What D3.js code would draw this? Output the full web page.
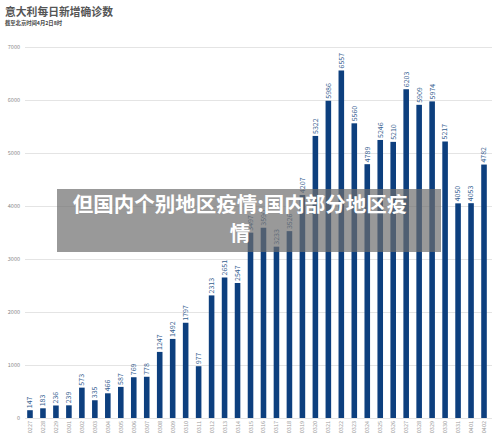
<!DOCTYPE html>
<html>
<head>
<meta charset="utf-8">
<script src="https://cdn.jsdelivr.net/npm/d3@7/dist/d3.min.js"></script>
<style>
  html, body { margin: 0; padding: 0; background: #fff; }
  svg { display: block; }
</style>
</head>
<body>
<svg id="chart" width="500" height="442"></svg>
<script>
const titleText = "意大利每日新增确诊数";
const subtitleText = "截至北京时间4月2日8时";
const overlayLines = ["但国内个别地区疫情:国内部分地区疫", "情"];

const dates = ["0227","0228","0229","0301","0302","0303","0304","0305","0306","0307",
  "0308","0309","0310","0311","0312","0313","0314","0315","0316","0317",
  "0318","0319","0320","0321","0322","0323","0324","0325","0326","0327",
  "0328","0329","0330","0331","0401","0402"];
const cases = [147,183,236,239,573,335,466,587,769,778,
  1247,1492,1797,977,2313,2651,2547,3497,3590,3233,
  3526,4207,5322,5986,6557,5560,4789,5246,5210,6203,
  5909,5974,5217,4050,4053,4782];
const yTicks = [0,1000,2000,3000,4000,5000,6000,7000];

const svg = d3.select("#chart");
const font = "'Noto Sans CJK SC', 'Noto Sans', sans-serif";

const x = d3.scaleBand().domain(dates).range([23.5, 490.5]).paddingInner(0.57).paddingOuter(0.285);
const y = d3.scaleLinear().domain([0, 7000]).range([418, 47]);

// title
svg.append("text").attr("x", 5).attr("y", 15.5)
  .attr("font-family", font).attr("font-weight", "bold").attr("font-size", 10.8)
  .attr("fill", "#555").text(titleText);
svg.append("text").attr("x", 5).attr("y", 25)
  .attr("font-family", font).attr("font-weight", "bold").attr("font-size", 5.3)
  .attr("fill", "#444").text(subtitleText);

// grid
const yAxis = d3.axisLeft(y).tickValues(yTicks).tickFormat(d3.format("d")).tickSize(0).tickPadding(5);
const gy = svg.append("g").attr("transform", "translate(25,0)").call(yAxis);
gy.select(".domain").remove();
gy.selectAll("text").attr("font-family", font).attr("font-size", 5.5).attr("fill", "#888");
gy.selectAll(".tick").append("line")
  .attr("x1", 0).attr("x2", 467).attr("stroke", "#e4e4e4").attr("stroke-width", 1);

// bars
svg.append("g").selectAll("rect").data(cases).join("rect")
  .attr("x", (d, i) => x(dates[i]))
  .attr("width", x.bandwidth())
  .attr("y", d => y(d))
  .attr("height", d => y(0) - y(d))
  .attr("fill", "#0d3f7e");

// value labels
svg.append("g").selectAll("text").data(cases).join("text")
  .attr("transform", (d, i) => `translate(${x(dates[i]) + x.bandwidth() / 2 + 2.4},${y(d) - 2}) rotate(-90)`)
  .attr("font-family", font).attr("font-size", 7)
  .attr("fill", "#35608f").text(d => d);

// x axis labels
const xAxis = d3.axisBottom(x).tickSize(0).tickPadding(0);
const gx = svg.append("g").attr("transform", "translate(0,420)").call(xAxis);
gx.select(".domain").remove();
gx.selectAll("text")
  .attr("font-family", font).attr("font-size", 5.5).attr("fill", "#999")
  .attr("text-anchor", "end").attr("dy", null).attr("y", 0)
  .attr("transform", "translate(2,1) rotate(-90)");

// overlay
svg.append("rect").attr("x", 57).attr("y", 189).attr("width", 384).attr("height", 63)
  .attr("fill", "rgb(110,110,110)").attr("fill-opacity", 0.7);
svg.append("g").selectAll("text").data(overlayLines).join("text")
  .attr("x", 240).attr("y", (d, i) => 212 + i * 29)
  .attr("text-anchor", "middle")
  .attr("font-family", font).attr("font-weight", "bold").attr("font-size", 20.5)
  .attr("fill", "#fff").text(d => d);
</script>
</body>
</html>
